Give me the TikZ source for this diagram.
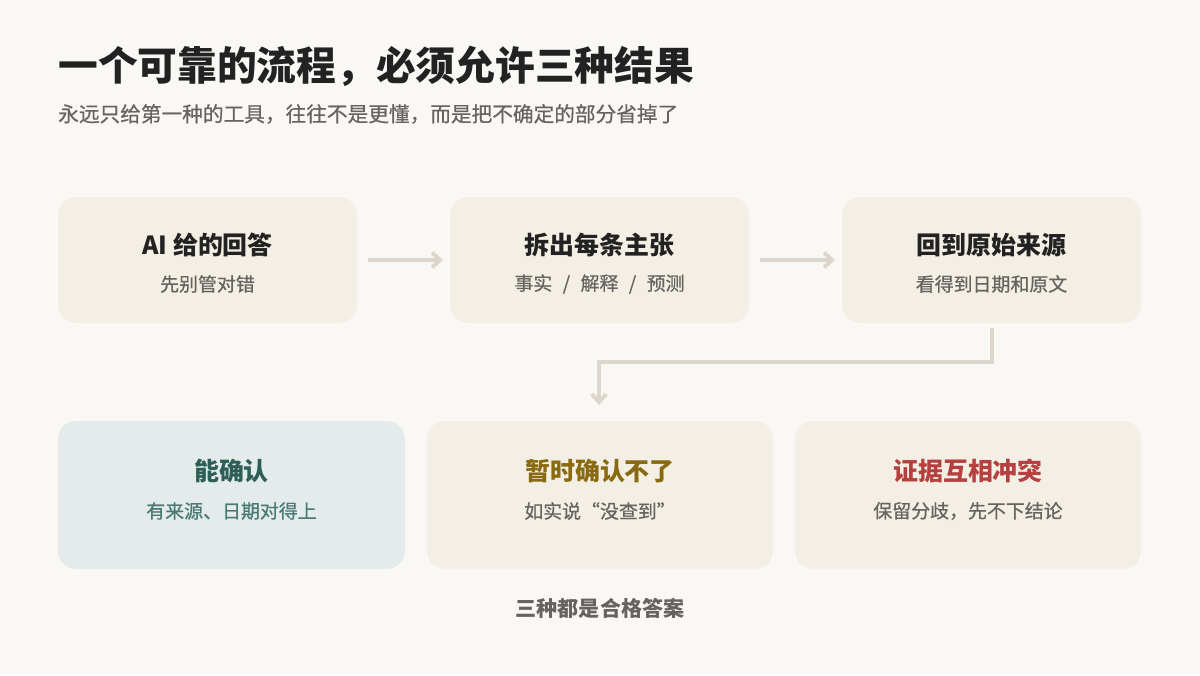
\documentclass[tikz,border=0pt]{standalone}
\usepackage{fontspec}
\setmainfont{Noto Sans CJK SC}
\newfontfamily\med[FakeBold=0.6]{Noto Sans CJK SC}
\usetikzlibrary{arrows.meta}
\definecolor{bg}{HTML}{F9F8F5}
\definecolor{card}{HTML}{F3EFE4}
\definecolor{cardg}{HTML}{E3ECEA}
\definecolor{arr}{HTML}{DDD6CB}
\definecolor{ink}{HTML}{222222}
\definecolor{sub}{HTML}{666360}
\definecolor{teal}{HTML}{2E5E58}
\definecolor{teals}{HTML}{4A7A73}
\definecolor{gold}{HTML}{8A6A10}
\definecolor{red}{HTML}{B5403F}
\begin{document}
\begin{tikzpicture}[x=0.75pt,y=-0.75pt,
 card/.style={fill=card,draw=none,rounded corners=13.5pt},
 ttl/.style={font=\fontsize{18.7}{22}\selectfont\bfseries,text=ink},
 st/.style={font=\fontsize{14.2}{17}\selectfont\med,text=sub},
 conn/.style={draw=arr,line width=3pt,-{Straight Barb[length=6pt,width=11pt]}}]
\path[use as bounding box,fill=bg] (0,0) rectangle (1200,675);
\node[anchor=west,font=\fontsize{29.8}{34}\selectfont\bfseries,text=ink,inner sep=0pt] (title) at (58,66) {一个可靠的流程，必须允许三种结果};
\node[anchor=west,font=\fontsize{15.5}{18}\selectfont\med,text=sub,inner sep=0pt] (subt) at (58,114) {永远只给第一种的工具，往往不是更懂，而是把不确定的部分省掉了};
\path[card] (58,197) rectangle (357,323);
\path[card] (450,197) rectangle (749,323);
\path[card] (842,197) rectangle (1141,323);
\path[card,fill=cardg] (58,421) rectangle (405,569);
\path[card] (427,421) rectangle (773,569);
\path[card] (795,421) rectangle (1141,569);
\node[ttl] (a1) at (207.5,245) {AI 给的回答};
\node[st] (a2) at (207.5,284) {先别管对错};
\node[ttl] (b1) at (599.5,245) {拆出每条主张};
\node[st] (b2) at (599.5,284) {事实\hspace{0.55em}/\hspace{0.55em}解释\hspace{0.55em}/\hspace{0.55em}预测};
\node[ttl] (c1) at (991.5,245) {回到原始来源};
\node[st] (c2) at (991.5,284) {看得到日期和原文};
\node[ttl,text=teal] (d1) at (231.5,471) {能确认};
\node[st,text=teals] (d2) at (231.5,511) {有来源、日期对得上};
\node[ttl,text=gold] (e1) at (600,471) {暂时确认不了};
\node[st] (e2) at (600,511) {如实说“没查到”};
\node[ttl,text=red] (f1) at (968,471) {证据互相冲突};
\node[st] (f2) at (968,511) {保留分歧，先不下结论};
\node[font=\fontsize{15.8}{18}\selectfont\bfseries,text=sub] (foot) at (600,608) {三种都是合格答案};
\coordinate (p1) at (368,260); \coordinate (p2) at (443,260);
\coordinate (q1) at (760,260); \coordinate (q2) at (835,260);
\coordinate (r0) at (992,328); \coordinate (r1) at (599,405);
\draw[conn] (p1) -- (p2);
\draw[conn] (q1) -- (q2);
\draw[conn] (r0) -- (992,362) -- (599,362) -- (r1);
\end{tikzpicture}
\end{document}
